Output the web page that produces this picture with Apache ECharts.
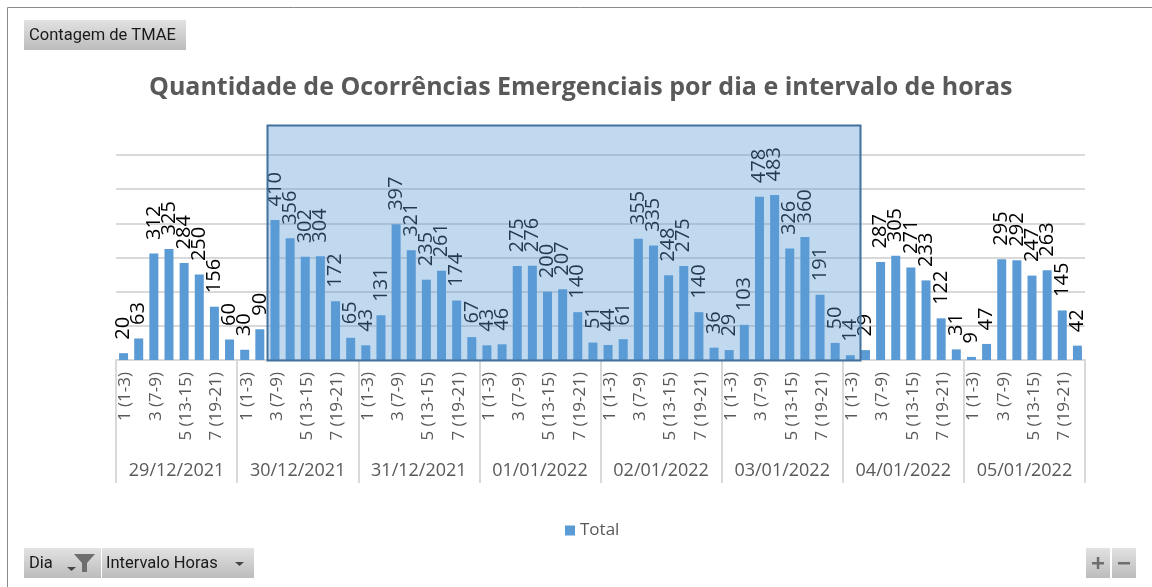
<!DOCTYPE html>
<html>
  <head>
    <meta charset="utf-8" />
    <title>Quantidade de Ocorrências Emergenciais</title>
    <script src="https://cdn.jsdelivr.net/npm/echarts@6/dist/echarts.min.js"></script>
    <style>
      html, body { margin: 0; padding: 0; background: #fff; }
    </style>
  </head>
  <body>
    <div id="main" style="width:1152px;height:587px;"></div>
    <script type="text/javascript">
      var dias = ['29/12/2021', '30/12/2021', '31/12/2021', '01/01/2022', '02/01/2022', '03/01/2022', '04/01/2022', '05/01/2022'];
      var intervalos = ['1 (1-3)', '2 (4-6)', '3 (7-9)', '4 (10-12)', '5 (13-15)', '6 (16-18)', '7 (19-21)', '8 (22-24)'];
      var d29 = [20, 63, 312, 325, 284, 250, 156, 60];
      var d30 = [30, 90, 410, 356, 302, 304, 172, 65];
      var d31 = [43, 131, 397, 321, 235, 261, 174, 67];
      var d01 = [43, 46, 275, 276, 200, 207, 140, 51];
      var d02 = [44, 61, 355, 335, 248, 275, 140, 36];
      var d03 = [29, 103, 478, 483, 326, 360, 191, 50];
      var d04 = [14, 29, 287, 305, 271, 233, 122, 31];
      var d05 = [9, 47, 295, 292, 247, 263, 145, 42];

      var total = [].concat(d29, d30, d31, d01, d02, d03, d04, d05);
      var categorias = [];
      dias.forEach(function (d) {
        intervalos.forEach(function (i) {
          categorias.push(d + '|' + i);
        });
      });

      var fonte = '"Open Sans", sans-serif';
      var cinza = '#595959';

      // botoes do grafico dinamico
      function botao(x, y, w, h) {
        return {
          type: 'rect',
          z: 20,
          shape: { x: x, y: y, width: w, height: h },
          style: {
            fill: new echarts.graphic.LinearGradient(0, 0, 0, 1, [
              { offset: 0, color: '#e2e2e2' },
              { offset: 1, color: '#bcbcbc' }
            ])
          }
        };
      }
      function textoBotao(t, x, y) {
        return {
          type: 'text',
          z: 21,
          x: x,
          y: y,
          style: { text: t, fill: '#1a1a1a', font: '16.5px Roboto, sans-serif', verticalAlign: 'middle' }
        };
      }
      function seta(x, y) {
        return {
          type: 'polygon',
          z: 21,
          shape: { points: [[x, y], [x + 9, y], [x + 4.5, y + 4]] },
          style: { fill: '#444' }
        };
      }

      var myChart = echarts.init(document.getElementById('main'));
      var option = {
        animation: false,
        backgroundColor: '#fff',
        title: {
          text: 'Quantidade de Ocorrências Emergenciais por dia e intervalo de horas',
          left: 144,
          top: 70,
          textStyle: { color: cinza, fontFamily: fonte, fontWeight: 'bold', fontSize: 25 }
        },
        legend: {
          data: ['Total'],
          left: 560,
          top: 517,
          icon: 'rect',
          itemWidth: 10,
          itemHeight: 10,
          itemGap: 5,
          textStyle: { color: cinza, fontFamily: fonte, fontSize: 17 }
        },
        grid: { left: 116, right: 67, top: 155, bottom: 227 },
        xAxis: [
          {
            type: 'category',
            data: categorias,
            axisLine: { show: false },
            axisTick: { show: false },
            axisLabel: {
              interval: 1,
              rotate: 90,
              margin: 12,
              formatter: function (v) { return '{a|' + v.split('|')[1] + '}'; },
              rich: {
                a: { color: cinza, fontFamily: fonte, fontSize: 17, padding: [4, 0, 0, 0] }
              }
            }
          },
          {
            type: 'category',
            position: 'bottom',
            data: dias,
            axisLine: { show: true, lineStyle: { color: '#d9d9d9', width: 2 } },
            axisTick: { show: true, alignWithLabel: false, length: 123, lineStyle: { color: '#d9d9d9', width: 2 } },
            axisLabel: { margin: 102, color: cinza, fontFamily: fonte, fontSize: 18, interval: 0 }
          }
        ],
        yAxis: {
          type: 'value',
          min: 0,
          max: 600,
          interval: 100,
          axisLabel: { show: false },
          axisLine: { show: false },
          axisTick: { show: false },
          splitLine: { lineStyle: { color: '#d9d9d9', width: 2 } }
        },
        series: [
          {
            name: 'Total',
            type: 'bar',
            xAxisIndex: 0,
            data: total,
            barWidth: 9,
            itemStyle: { color: '#5b9bd5' },
            label: {
              show: true,
              position: 'top',
              rotate: 90,
              align: 'left',
              verticalAlign: 'middle',
              distance: 12,
              offset: [1.5, 0],
              color: '#000',
              fontFamily: fonte,
              fontSize: 20
            }
          }
        ],
        graphic: [
          // moldura
          { type: 'line', shape: { x1: 7.5, y1: 7.5, x2: 1152, y2: 7.5 }, style: { stroke: '#8a8a8a', lineWidth: 1 } },
          { type: 'line', shape: { x1: 7.5, y1: 7.5, x2: 7.5, y2: 587 }, style: { stroke: '#8a8a8a', lineWidth: 1 } },
          // selecao por cima das barras
          {
            type: 'rect',
            z: 100,
            shape: { x: 267.5, y: 125.5, width: 593, height: 235 },
            style: { fill: 'rgba(91,155,213,0.38)', stroke: '#41719c', lineWidth: 2 }
          },
          botao(24, 20, 162, 30),
          textoBotao('Contagem de TMAE', 29, 36),
          botao(24, 548, 77, 30),
          textoBotao('Dia', 29, 564),
          seta(67, 567),
          {
            type: 'polygon',
            z: 21,
            shape: { points: [[74, 554], [95, 554], [87, 563], [87, 572], [82, 572], [82, 563]] },
            style: { fill: '#6e6e6e' }
          },
          botao(102, 548, 152, 30),
          textoBotao('Intervalo Horas', 106, 564),
          seta(235, 562),
          botao(1086, 548, 24, 30),
          botao(1112, 548, 24, 30),
          { type: 'rect', z: 21, shape: { x: 1092, y: 562, width: 12, height: 2.5 }, style: { fill: '#6e6e6e' } },
          { type: 'rect', z: 21, shape: { x: 1096.8, y: 557, width: 2.5, height: 12 }, style: { fill: '#6e6e6e' } },
          { type: 'rect', z: 21, shape: { x: 1118, y: 562, width: 12, height: 2.5 }, style: { fill: '#6e6e6e' } }
        ]
      };
      myChart.setOption(option);
    </script>
  </body>
</html>
